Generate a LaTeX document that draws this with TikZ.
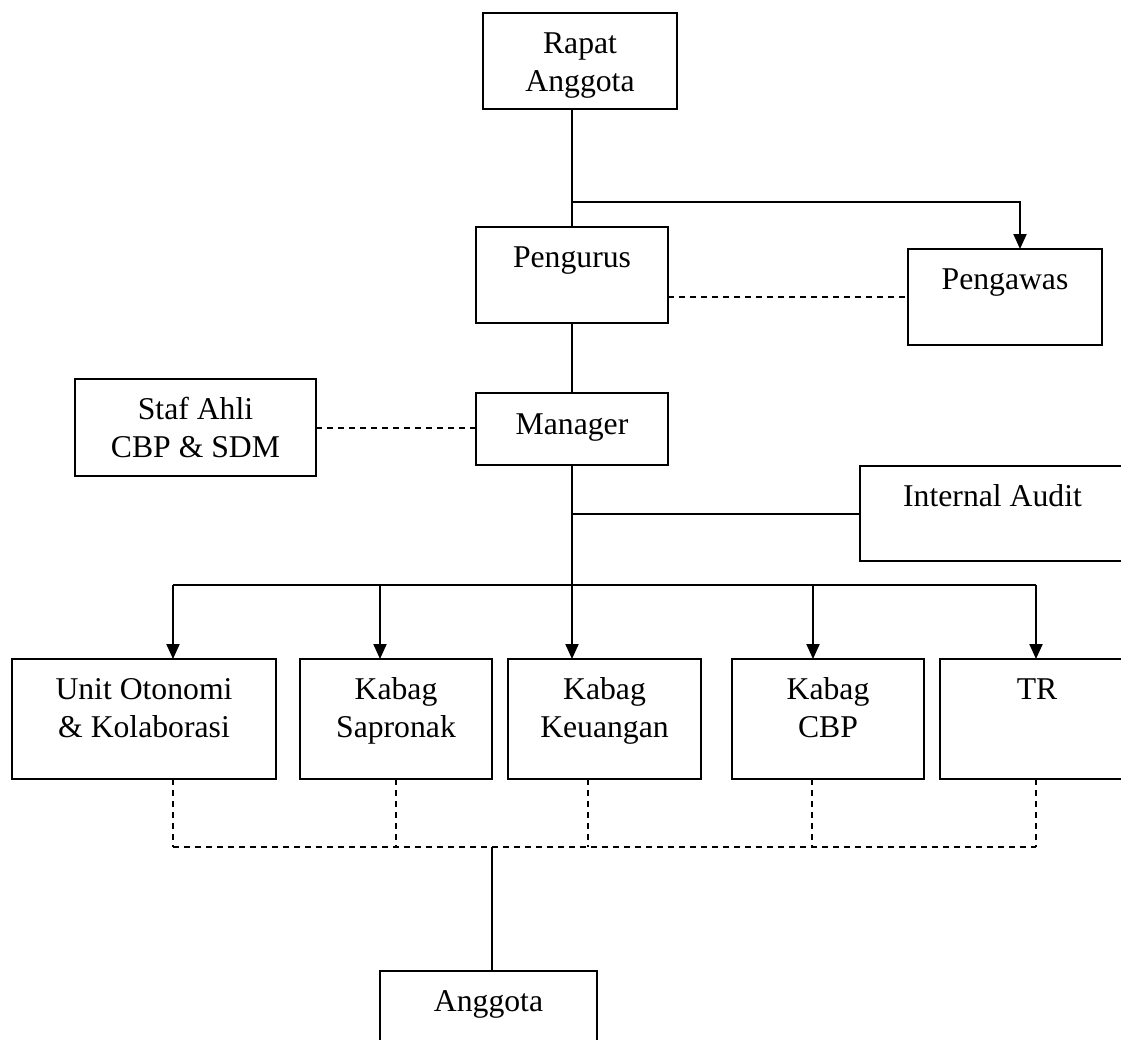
\documentclass[tikz,border=0pt]{standalone}
\usepackage{fontspec}
\setmainfont{Liberation Serif}
\usepackage{tikz}
\usetikzlibrary{arrows.meta}

\newcommand{\duabaris}[2]{\begin{tabular}[t]{@{}c@{}}#1\\#2\end{tabular}}

\tikzset{
        kotak/.style={draw=black, line width=2pt, anchor=north west, inner sep=0pt, outer sep=0pt},
        teks/.style={black, anchor=base, inner sep=0pt, font=\fontsize{31.7}{37.5}\selectfont},
        garis/.style={black, line width=2pt},
        putus/.style={black, line width=2pt, dash pattern=on 6pt off 5pt},
        panah/.style={black, line width=2pt, -{Triangle[length=15pt,width=13pt]}}
}

\begin{document}
\begin{tikzpicture}[x=1pt, y=-1pt]
        \clip (0,0) rectangle (1121,1039);

        \node[kotak, minimum width=194pt, minimum height=96pt] (rapat) at (483,13) {};
        \node[kotak, minimum width=192pt, minimum height=96pt] (pengurus) at (476,227) {};
        \node[kotak, minimum width=194pt, minimum height=96pt] (pengawas) at (908,249) {};
        \node[kotak, minimum width=192pt, minimum height=72pt] (manager) at (476,393) {};
        \node[kotak, minimum width=241pt, minimum height=97pt] (staf) at (75,379) {};
        \node[kotak, minimum width=265pt, minimum height=95pt] (audit) at (860,466) {};

        \node[kotak, minimum width=264pt, minimum height=120pt] (unit) at (12,659) {};
        \node[kotak, minimum width=192pt, minimum height=120pt] (sapronak) at (300,659) {};
        \node[kotak, minimum width=193pt, minimum height=120pt] (keuangan) at (508,659) {};
        \node[kotak, minimum width=192pt, minimum height=120pt] (cbp) at (732,659) {};
        \node[kotak, minimum width=194pt, minimum height=120pt] (tr) at (940,659) {};
        \node[kotak, minimum width=217pt, minimum height=120pt] (anggota) at (380,971) {};

        \node[teks] (rapatT) at ([yshift=-40.5pt]rapat.north) {\duabaris{Rapat}{Anggota}};
        \node[teks] (pengurusT) at ([yshift=-40.5pt]pengurus.north) {Pengurus};
        \node[teks] (pengawasT) at ([yshift=-40.5pt]pengawas.north) {Pengawas};
        \node[teks] (managerT) at ([yshift=-41.5pt]manager.north) {Manager};
        \node[teks] (stafT) at ([yshift=-40.5pt]staf.north) {\duabaris{Staf Ahli}{CBP \& SDM}};
        \node[teks] (auditT) at ([yshift=-40.5pt]audit.north) {Internal Audit};
        \node[teks] (unitT) at ([yshift=-40.5pt]unit.north) {\duabaris{Unit Otonomi}{\& Kolaborasi}};
        \node[teks] (sapronakT) at ([yshift=-40.5pt]sapronak.north) {\duabaris{Kabag}{Sapronak}};
        \node[teks] (keuanganT) at ([yshift=-40.5pt]keuangan.north) {\duabaris{Kabag}{Keuangan}};
        \node[teks] (cbpT) at ([yshift=-40.5pt]cbp.north) {\duabaris{Kabag}{CBP}};
        \node[teks] (trT) at ([yshift=-40.5pt]tr.north) {TR};
        \node[teks] (anggotaT) at ([yshift=-40.5pt]anggota.north) {Anggota};

        \coordinate (cabang) at (572,202);
        \draw[garis] (rapat.south -| pengurus.north) -- (pengurus.north);
        \draw[panah] (cabang) -| ([xshift=15pt]pengawas.north);
        \draw[putus] (pengawas.west -| pengurus.east) -- (pengawas.west);

        \draw[garis] (pengurus.south) -- (manager.north);
        \draw[putus] (staf.east) -- (staf.east -| manager.west);

        \coordinate (bus) at (572,585);
        \draw[garis] (manager.south) -- (bus);
        \draw[garis] (audit.west -| manager.south) -- (audit.west);

        \coordinate (t1) at (173,585);
        \coordinate (t2) at (380,585);
        \coordinate (t3) at (572,585);
        \coordinate (t4) at (813,585);
        \coordinate (t5) at (1036,585);
        \draw[garis] (t1) -- (t5);
        \foreach \t/\b in {t1/unit, t2/sapronak, t3/keuangan, t4/cbp, t5/tr}
                \draw[panah] (\t) -- (\t |- \b.north);

        \coordinate (d1) at (173,847);
        \coordinate (d2) at (396,847);
        \coordinate (d3) at (588,847);
        \coordinate (d4) at (812,847);
        \coordinate (d5) at (1036,847);
        \draw[putus] (d1) -- (d5);
        \foreach \d/\b in {d1/unit, d2/sapronak, d3/keuangan, d4/cbp, d5/tr}
                \draw[putus] (\d |- \b.south) -- (\d);

        \coordinate (hub) at (492,847);
        \draw[garis] (hub) -- (hub |- anggota.north);
\end{tikzpicture}
\end{document}
